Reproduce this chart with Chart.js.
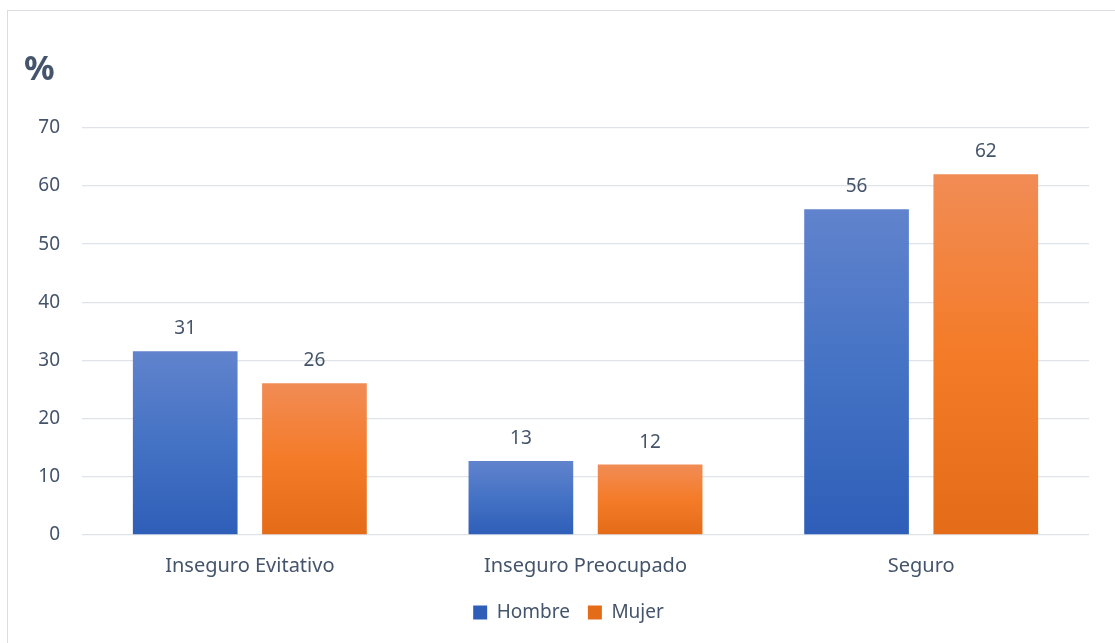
<!DOCTYPE html>
<html>
<head>
<meta charset="utf-8">
<script src="https://cdn.jsdelivr.net/npm/chart.js@4.4.0/dist/chart.umd.min.js"></script>
<style>
  html, body { margin: 0; padding: 0; background: #fff; }
  #wrap { position: relative; width: 1115px; height: 643px; overflow: hidden; }
  #frame { position: absolute; left: 7px; top: 10px; width: 1200px; height: 700px; border: 1px solid #dadde3; box-sizing: border-box; }
  canvas { position: absolute; left: 0; top: 0; }
</style>
</head>
<body>
<div id="wrap">
  <div id="frame"></div>
  <canvas id="barChart" width="1115" height="643"></canvas>
</div>
<script>
const categories = ['Inseguro Evitativo', 'Inseguro Preocupado', 'Seguro'];
const hombreValues = [31.6, 12.7, 56.0];
const mujerValues = [26.1, 12.1, 62.0];
const hombreLabels = ['31', '13', '56'];
const mujerLabels = ['26', '12', '62'];
const yTicks = [0, 10, 20, 30, 40, 50, 60, 70];

const textColor = '#44546A';
const fontFamily = "'Noto Sans', 'Open Sans', sans-serif";

function barGradient(top, mid, bottom) {
  return function (context) {
    const chart = context.chart;
    if (!chart.chartArea || context.dataIndex === undefined || !chart.scales.y) return mid;
    const value = context.dataset.data[context.dataIndex];
    const yTop = chart.scales.y.getPixelForValue(value);
    const yBot = chart.scales.y.getPixelForValue(0);
    const g = chart.ctx.createLinearGradient(0, yTop, 0, yBot);
    g.addColorStop(0, top);
    g.addColorStop(0.5, mid);
    g.addColorStop(1, bottom);
    return g;
  };
}

// labels above bars
const valueLabels = {
  id: 'valueLabels',
  afterLayout(chart) {
    // nudge the legend a bit to the right, like the original
    chart.legend.left += 12;
    chart.legend.right += 12;
  },
  afterDatasetsDraw(chart) {
    const ctx = chart.ctx;
    const texts = [hombreLabels, mujerLabels];
    ctx.save();
    ctx.font = '19px ' + fontFamily;
    ctx.fillStyle = textColor;
    ctx.textAlign = 'center';
    ctx.textBaseline = 'alphabetic';
    chart.data.datasets.forEach((ds, di) => {
      chart.getDatasetMeta(di).data.forEach((bar, i) => {
        ctx.fillText(texts[di][i], bar.x, bar.y - 17);
      });
    });
    ctx.restore();
  }
};

const ctx = document.getElementById('barChart').getContext('2d');
new Chart(ctx, {
  type: 'bar',
  data: {
    labels: categories,
    datasets: [{
      label: 'Hombre',
      data: hombreValues,
      backgroundColor: barGradient('#6183cd', '#4472c4', '#2e5eb8')
    }, {
      label: 'Mujer',
      data: mujerValues,
      backgroundColor: barGradient('#f18c55', '#f47b28', '#e46b18')
    }]
  },
  options: {
    responsive: false,
    animation: false,
    categoryPercentage: 0.77,
    barPercentage: 0.81,
    layout: { padding: { left: 24, right: 26, top: 0, bottom: 11 } },
    plugins: {
      title: {
        display: true,
        text: '%',
        align: 'start',
        color: textColor,
        font: { family: fontFamily, size: 34, weight: 'bold' },
        padding: { top: 50, bottom: 37 }
      },
      legend: {
        position: 'bottom',
        labels: {
          color: textColor,
          font: { family: fontFamily, size: 19 },
          boxWidth: 14,
          boxHeight: 14,
          padding: 18
        }
      },
      tooltip: { enabled: false }
    },
    scales: {
      x: {
        afterFit(scale) { scale.height = 50; },
        grid: { display: false, drawTicks: false },
        border: { display: false },
        ticks: { color: textColor, font: { family: fontFamily, size: 20 }, padding: 19 }
      },
      y: {
        min: 0,
        max: 70,
        afterBuildTicks(scale) { scale.ticks = yTicks.map(v => ({ value: v })); },
        afterFit(scale) { scale.width = 58; },
        grid: { color: '#dfe3e8', lineWidth: 1.3, drawTicks: false },
        border: { display: false },
        ticks: { color: textColor, font: { family: fontFamily, size: 19 }, padding: 22 }
      }
    }
  },
  plugins: [valueLabels]
});
</script>
</body>
</html>
